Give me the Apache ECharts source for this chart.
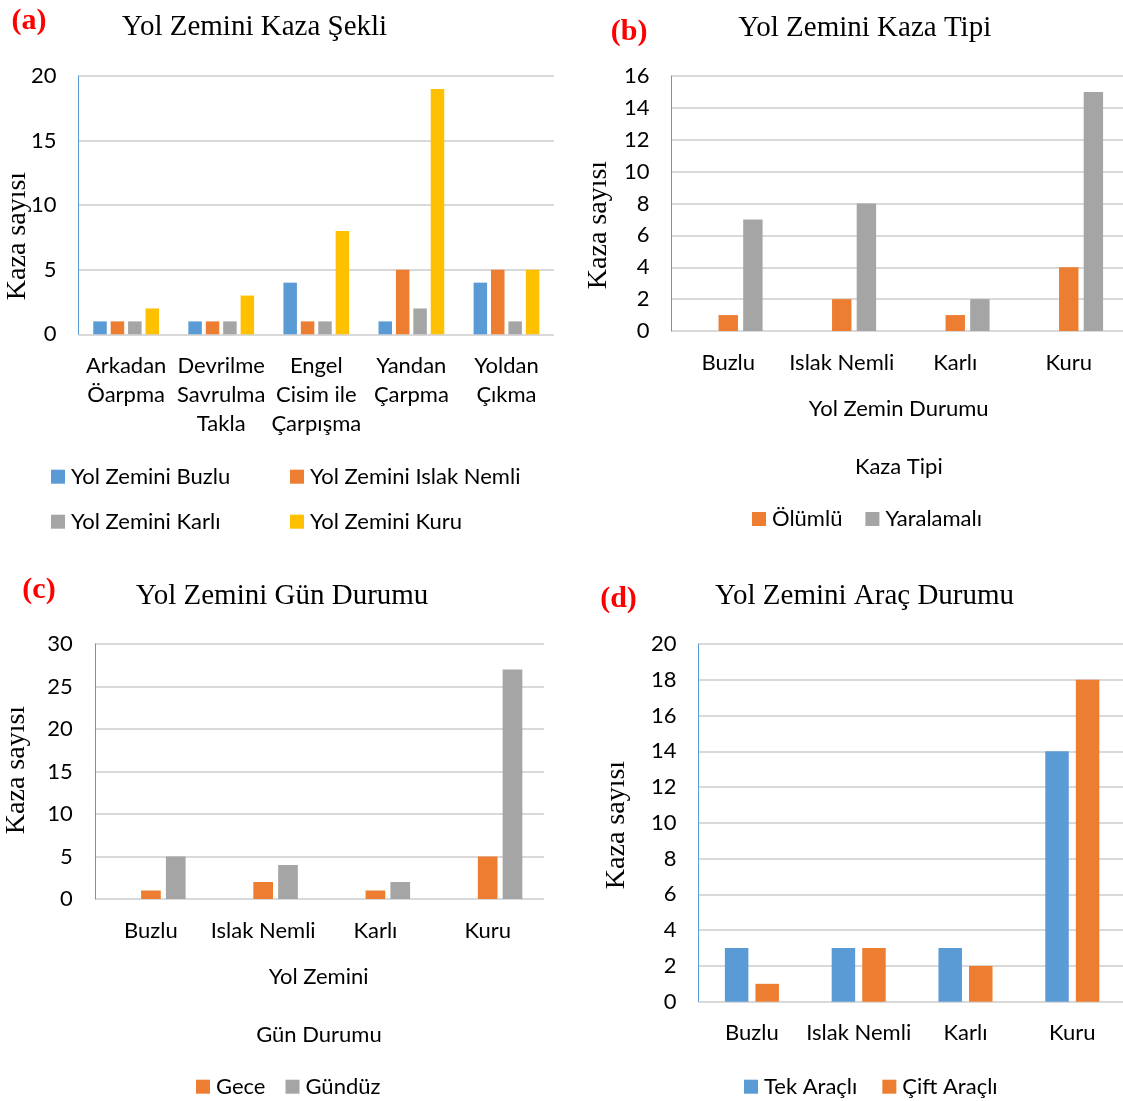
<!DOCTYPE html>
<html>
<head>
<meta charset="utf-8">
<title>Yol Zemini</title>
<script src="https://cdn.jsdelivr.net/npm/echarts@6/dist/echarts.min.js"></script>
<style>
  html, body { margin: 0; padding: 0; background: #ffffff; }
  #chart { width: 1123px; height: 1101px; }
</style>
</head>
<body>
<div id="chart"></div>
<script>
// (a) Yol Zemini Kaza Şekli
const shapeCategories = ['Arkadan\nÖarpma', 'Devrilme\nSavrulma\nTakla', 'Engel\nCisim ile\nÇarpışma', 'Yandan\nÇarpma', 'Yoldan\nÇıkma'];
const shapeBuzlu = [1, 1, 4, 1, 4];
const shapeIslak = [1, 1, 1, 5, 5];
const shapeKarli = [1, 1, 1, 2, 1];
const shapeKuru = [2, 3, 8, 19, 5];

// (b), (c), (d) share the road-surface categories
const surfaceCategories = ['Buzlu', 'Islak Nemli', 'Karlı', 'Kuru'];

// (b) Yol Zemini Kaza Tipi (first slot is an empty series)
const typeBlank = [null, null, null, null];
const typeOlumlu = [1, 2, 1, 4];
const typeYaralamali = [7, 8, 2, 15];

// (c) Yol Zemini Gün Durumu (first slot is an empty series)
const dayBlank = [null, null, null, null];
const dayGece = [1, 2, 1, 5];
const dayGunduz = [5, 4, 2, 27];

// (d) Yol Zemini Araç Durumu
const vehicleTek = [3, 3, 3, 14];
const vehicleCift = [1, 3, 2, 18];

const SANS = 'Lato, "Open Sans", sans-serif';
const SERIF = '"Liberation Serif", "DejaVu Serif", serif';
const BLUE = '#5b9bd5', ORANGE = '#ed7d31', GRAY = '#a5a5a5', YELLOW = '#ffc000';
const TEXT = '#000000';

function xCat(gridIndex, data, extra) {
  return Object.assign({
    type: 'category', gridIndex: gridIndex, data: data,
    axisLine: { show: false }, axisTick: { show: false },
    axisLabel: { fontFamily: SANS, fontSize: 22, color: TEXT, margin: 17, lineHeight: 29, interval: 0 }
  }, extra || {});
}
function yVal(gridIndex, max, interval) {
  return {
    type: 'value', gridIndex: gridIndex, min: 0, max: max, interval: interval,
    axisLine: { show: true, lineStyle: { color: BLUE, width: 1 } },
    axisTick: { show: false },
    splitLine: { show: true, lineStyle: { color: '#d9d9d9', width: 2 } },
    axisLabel: { fontFamily: SANS, fontSize: 22, color: TEXT, margin: 22 }
  };
}
function bar(name, data, gi, color, width, gap) {
  return {
    type: 'bar', name: name, data: data, xAxisIndex: gi, yAxisIndex: gi,
    barWidth: width, barGap: gap, itemStyle: { color: color }, silent: true
  };
}
function legend(left, top, names, orient, gap) {
  return {
    left: left, top: top, orient: orient, data: names, padding: 0,
    itemGap: gap, itemWidth: 14, itemHeight: 14, icon: 'rect', selectedMode: false,
    textStyle: { fontFamily: SANS, fontSize: 22, lineHeight: 22, color: TEXT, padding: [0, 0, 0, 1] }
  };
}
function text(str, x, y, font, color, rotation) {
  return {
    type: 'text', x: x, y: y, rotation: rotation || 0, silent: true,
    style: { text: str, font: font, fill: color || TEXT, align: 'center', verticalAlign: 'middle' }
  };
}

const option = {
  animation: false,
  backgroundColor: '#ffffff',
  grid: [
    { left: 78.6, top: 76, width: 475.4, height: 258.3, outerBoundsMode: 'none' },
    { left: 671.5, top: 76, width: 454, height: 255, outerBoundsMode: 'none' },
    { left: 94.8, top: 644, width: 449, height: 255, outerBoundsMode: 'none' },
    { left: 698.5, top: 644, width: 427.2, height: 357.7, outerBoundsMode: 'none' }
  ],
  xAxis: [
    xCat(0, shapeCategories),
    xCat(1, surfaceCategories),
    xCat(2, surfaceCategories),
    xCat(3, surfaceCategories)
  ],
  yAxis: [
    yVal(0, 20, 5),
    yVal(1, 16, 2),
    yVal(2, 30, 5),
    yVal(3, 20, 2)
  ],
  legend: [
    legend(51, 465.7, ['Yol Zemini Buzlu', 'Yol Zemini Karlı'], 'vertical', 23),
    legend(290, 465.7, ['Yol Zemini Islak Nemli', 'Yol Zemini Kuru'], 'vertical', 23),
    legend(752, 508, ['Ölümlü', 'Yaralamalı'], 'horizontal', 23),
    legend(196, 1075.7, ['Gece', 'Gündüz'], 'horizontal', 20),
    legend(744, 1075.7, ['Tek Araçlı', 'Çift Araçlı'], 'horizontal', 25)
  ],
  series: [
    bar('Yol Zemini Buzlu', shapeBuzlu, 0, BLUE, 13.5, '29%'),
    bar('Yol Zemini Islak Nemli', shapeIslak, 0, ORANGE, 13.5, '29%'),
    bar('Yol Zemini Karlı', shapeKarli, 0, GRAY, 13.5, '29%'),
    bar('Yol Zemini Kuru', shapeKuru, 0, YELLOW, 13.5, '29%'),

    bar('Kaza Tipi (boş)', typeBlank, 1, BLUE, 19.4, '27%'),
    bar('Ölümlü', typeOlumlu, 1, ORANGE, 19.4, '27%'),
    bar('Yaralamalı', typeYaralamali, 1, GRAY, 19.4, '27%'),

    bar('Gün Durumu (boş)', dayBlank, 2, BLUE, 19.7, '26%'),
    bar('Gece', dayGece, 2, ORANGE, 19.7, '26%'),
    bar('Gündüz', dayGunduz, 2, GRAY, 19.7, '26%'),

    bar('Tek Araçlı', vehicleTek, 3, BLUE, 23.5, '30%'),
    bar('Çift Araçlı', vehicleCift, 3, ORANGE, 23.5, '30%')
  ],
  graphic: [
    // panel letters
    text('(a)', 28.9, 21, 'bold 30px ' + SERIF, '#ff0000'),
    text('(b)', 629.2, 32.5, 'bold 30px ' + SERIF, '#ff0000'),
    text('(c)', 39, 590, 'bold 30px ' + SERIF, '#ff0000'),
    text('(d)', 618.5, 599, 'bold 30px ' + SERIF, '#ff0000'),
    // chart titles
    text('Yol Zemini Kaza Şekli', 254.5, 27, '29px ' + SERIF),
    text('Yol Zemini Kaza Tipi', 864.7, 28.7, '29px ' + SERIF),
    text('Yol Zemini Gün Durumu', 282, 596, '29px ' + SERIF),
    text('Yol Zemini Araç Durumu', 864.5, 596, '29px ' + SERIF),
    // value-axis titles
    text('Kaza sayısı', 17.5, 236, '28px ' + SERIF, TEXT, Math.PI / 2),
    text('Kaza sayısı', 598.5, 225, '28px ' + SERIF, TEXT, Math.PI / 2),
    text('Kaza sayısı', 16.5, 770, '28px ' + SERIF, TEXT, Math.PI / 2),
    text('Kaza sayısı', 616.5, 825, '28px ' + SERIF, TEXT, Math.PI / 2),
    // category-axis titles and legend headings
    text('Yol Zemin Durumu', 898.7, 409, '22px ' + SANS),
    text('Kaza Tipi', 898.8, 466.7, '22px ' + SANS),
    text('Yol Zemini', 318.6, 977, '22px ' + SANS),
    text('Gün Durumu', 318.9, 1035, '22px ' + SANS)
  ]
};

const chart = echarts.init(document.getElementById('chart'), null, { renderer: 'canvas' });
chart.setOption(option);
</script>
</body>
</html>
